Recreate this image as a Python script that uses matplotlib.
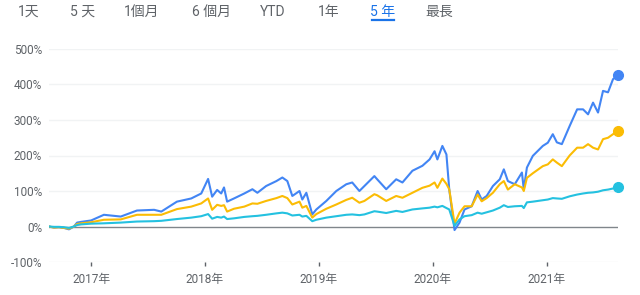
import numpy as np
import pandas as pd
import matplotlib
matplotlib.use("Agg")
import matplotlib.pyplot as plt

plt.rcParams['font.family'] = ['Roboto', 'Noto Sans CJK TC', 'DejaVu Sans']

# dates
dates = ["2016-08-19", "2016-09-04", "2016-09-20", "2016-10-06", "2016-10-22",
         "2016-11-07", "2016-11-17", "2016-11-30", "2017-01-01", "2017-02-11",
         "2017-04-06", "2017-05-28", "2017-07-22", "2017-08-14", "2017-10-03",
         "2017-11-18", "2017-12-20", "2018-01-11", "2018-01-24", "2018-02-09",
         "2018-02-22", "2018-03-03", "2018-03-13", "2018-04-04", "2018-05-07",
         "2018-06-02", "2018-06-18", "2018-07-16", "2018-08-18", "2018-09-06",
         "2018-09-22", "2018-10-08", "2018-10-31", "2018-11-09", "2018-11-22",
         "2018-12-11", "2018-12-24", "2019-01-25", "2019-02-26", "2019-03-30",
         "2019-04-18", "2019-05-11", "2019-05-27", "2019-06-28", "2019-07-07",
         "2019-08-05", "2019-09-06", "2019-09-26", "2019-10-28", "2019-11-29",
         "2019-12-22", "2020-01-07", "2020-01-16", "2020-02-01", "2020-02-14",
         "2020-02-23", "2020-03-11", "2020-03-27", "2020-04-12", "2020-05-05",
         "2020-05-24", "2020-06-06", "2020-06-22", "2020-07-12", "2020-08-03",
         "2020-08-16", "2020-08-29", "2020-09-20", "2020-10-13", "2020-10-19",
         "2020-10-29", "2020-11-17", "2020-12-19", "2021-01-04", "2021-01-20",
         "2021-02-02", "2021-02-18", "2021-03-15", "2021-04-08", "2021-04-27",
         "2021-05-13", "2021-05-29", "2021-06-14", "2021-06-30", "2021-07-16",
         "2021-08-01", "2021-08-17"]

# percent change, blue / yellow / cyan
blue = [0, -3, -2, -4, -8, 0, 11, 13, 17, 33,
        28, 45, 47, 42, 70, 79, 93, 134, 84, 103,
        93, 110, 70, 79, 93, 105, 95, 114, 128, 138,
        128, 86, 100, 76, 95, 34, 48, 72, 100, 119,
        124, 100, 114, 142, 133, 105, 133, 124, 157, 171,
        189, 212, 189, 227, 203, 105, -10, 11, 48, 57,
        100, 76, 86, 114, 133, 161, 128, 119, 152, 105,
        166, 199, 227, 236, 260, 237, 232, 283, 330, 330,
        316, 349, 321, 382, 378, 415, 426]
yellow = [0, -3, -2, -4, -6, 0, 7, 9, 12, 19,
          20, 33, 33, 33, 49, 56, 65, 79, 47, 61,
          58, 60, 42, 50, 56, 65, 64, 72, 80, 86,
          80, 62, 70, 53, 58, 25, 35, 50, 62, 75,
          81, 67, 72, 91, 88, 72, 86, 81, 95, 109,
          115, 124, 109, 135, 120, 105, 8, 39, 57, 57,
          90, 71, 80, 95, 119, 128, 104, 119, 110, 100,
          137, 150, 170, 175, 189, 180, 170, 200, 222, 222,
          232, 222, 217, 246, 250, 260, 269]
cyan = [0, -1, -1, -2, -4, 0, 4, 6, 8, 9,
        11, 14, 15, 16, 21, 25, 29, 35, 22, 27,
        25, 28, 21, 23, 27, 29, 30, 33, 37, 39,
        37, 31, 33, 28, 30, 15, 19, 25, 29, 33,
        34, 32, 34, 43, 42, 38, 44, 41, 48, 51,
        53, 56, 54, 58, 52, 48, 2, 20, 29, 32,
        39, 36, 40, 45, 53, 60, 55, 57, 58, 52,
        68, 70, 74, 76, 80, 79, 78, 85, 90, 93,
        95, 96, 98, 102, 104, 107, 110]

tabs = ["1天", "5 天", "1個月", "6 個月", "YTD", "1年", "5 年", "最長"]
tab_x = [29, 83, 142, 212, 273, 329, 383, 439]
active_tab = "5 年"

yticks = [-100, 0, 100, 200, 300, 400, 500]
years = [2017, 2018, 2019, 2020, 2021]

t = pd.to_datetime(dates)
gray = "#5f6368"

fig = plt.figure(figsize=(6.4, 2.95), dpi=100)
ax = fig.add_axes([49 / 640, 33 / 295, 569 / 640, 213 / 295])

for v in yticks:
    if v == 0:
        ax.axhline(0, color="#80868b", lw=1.0, zorder=1)
    else:
        ax.axhline(v, color="#f1f3f4", lw=1.0, zorder=0)

for vals, c in [(blue, "#4285f4"), (yellow, "#fbbc04"), (cyan, "#24c1e0")]:
    ax.plot(t, vals, color=c, lw=1.5, zorder=3, solid_joinstyle="round")
    ax.plot(t[-1:], vals[-1:], "o", color=c, ms=7, zorder=4, clip_on=False)

ax.set_xlim(t[0], t[-1])
ax.set_ylim(-100, 500)
ax.set_yticks(yticks)
ax.set_yticklabels([f"{v}%" for v in yticks])
ax.set_xticks(pd.to_datetime([f"{y}-01-01" for y in years]))
ax.set_xticklabels([f"{y}年" for y in years])
ax.tick_params(axis="y", length=0, pad=5, labelsize=8.5, labelcolor=gray)
ax.tick_params(axis="x", length=3, width=1, color=gray, pad=5,
               labelsize=8.5, labelcolor=gray)
for s in ax.spines.values():
    s.set_visible(False)

for lab, x in zip(tabs, tab_x):
    col = "#1a73e8" if lab == active_tab else gray
    fig.text(x / 640, 1 - 12 / 295, lab, ha="center", va="center",
             fontsize=10, color=col)
    if lab == active_tab:
        fig.add_artist(plt.Line2D([(x - 11) / 640, (x + 11) / 640],
                                  [1 - 20 / 295, 1 - 20 / 295],
                                  color="#1a73e8", lw=1.6))

fig.savefig("out.png", dpi=100)
